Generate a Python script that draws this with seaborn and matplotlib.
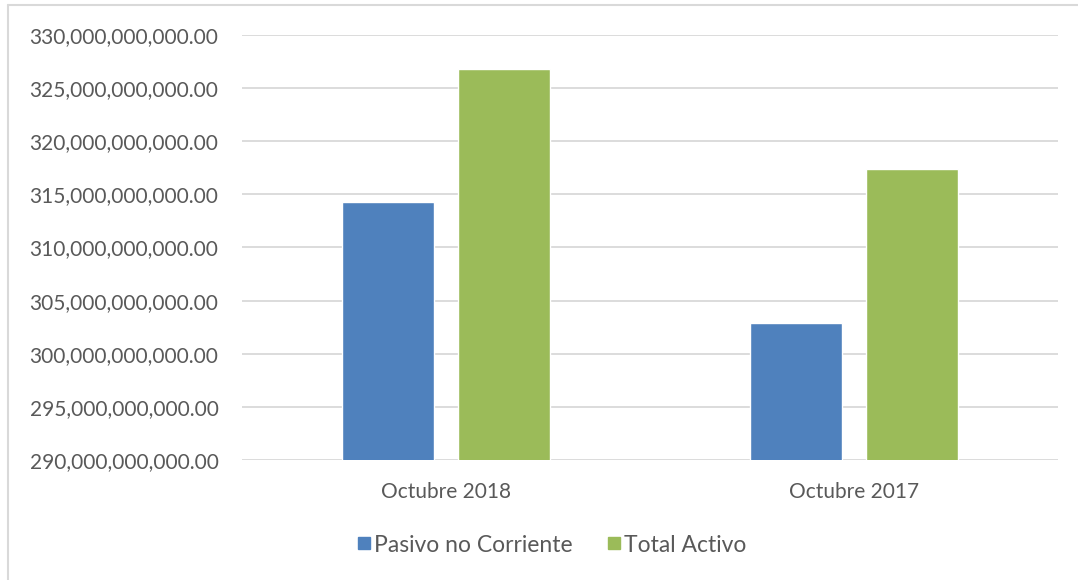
#Bar chart: Pasivo no Corriente vs Total Activo (Octubre 2018 / 2017)
import pandas as pd
import matplotlib
matplotlib.use('Agg')
import matplotlib.pyplot as plt
import matplotlib.ticker as mticker
from matplotlib.lines import Line2D
import seaborn as sns

#values
categories = ['Octubre 2018', 'Octubre 2017']
series = ['Pasivo no Corriente', 'Total Activo']
pasivo = [314.25e9, 302.87e9]
activo = [326.8e9, 317.36e9]
colors = ['#4F81BD', '#9BBB59']

#long form table for seaborn
data = pd.DataFrame({
    'periodo': categories * 2,
    'serie': [series[0]] * len(categories) + [series[1]] * len(categories),
    'valor': pasivo + activo,
})

sns.set_style('white')
plt.rcParams['font.family'] = ['Lato', 'DejaVu Sans']
text_color = '#595959'
grid_color = '#D9D9D9'

fig = plt.figure(figsize=(10.78, 5.8), dpi=100)
ax = fig.add_axes([242 / 1078, 1 - 460 / 580, 816 / 1078, 425 / 580])

sns.barplot(data=data, x='periodo', y='valor', hue='serie', order=categories,
            hue_order=series, palette=colors, width=0.569, gap=0.215,
            saturation=1, ax=ax, legend=False, zorder=3)

#y axis in money format
ax.set_ylim(290e9, 330e9)
ax.yaxis.set_major_locator(mticker.MultipleLocator(5e9))
ax.yaxis.set_major_formatter(mticker.FuncFormatter(lambda v, p: '{:,.2f}'.format(v)))
ax.set_xlim(-0.5, 1.5)
ax.grid(axis='y', color=grid_color, linewidth=1.3, zorder=0)
ax.set_axisbelow(True)
for s in ax.spines.values():
    s.set_visible(False)
ax.tick_params(axis='both', length=0, labelsize=15, colors=text_color)
ax.tick_params(axis='y', pad=17)
ax.tick_params(axis='x', pad=16)
ax.set_xlabel('')
ax.set_ylabel('')

#legend at the bottom
handles = [Line2D([], [], marker='s', linestyle='', markersize=9,
                  markerfacecolor=c, markeredgecolor=c) for c in colors]
fig.legend(handles, series, loc='center', bbox_to_anchor=(552 / 1078, 1 - 545 / 580),
           ncol=2, frameon=False, fontsize=16.5, labelcolor=text_color,
           handlelength=0.6, handletextpad=0.15, columnspacing=1.5)

#light chart border (left and top)
fig.add_artist(Line2D([8 / 1078, 8 / 1078], [0, 1 - 5 / 580], color=grid_color, linewidth=1.5))
fig.add_artist(Line2D([8 / 1078, 1], [1 - 5 / 580, 1 - 5 / 580], color=grid_color, linewidth=1.5))

plt.savefig('out.png', dpi=100)
